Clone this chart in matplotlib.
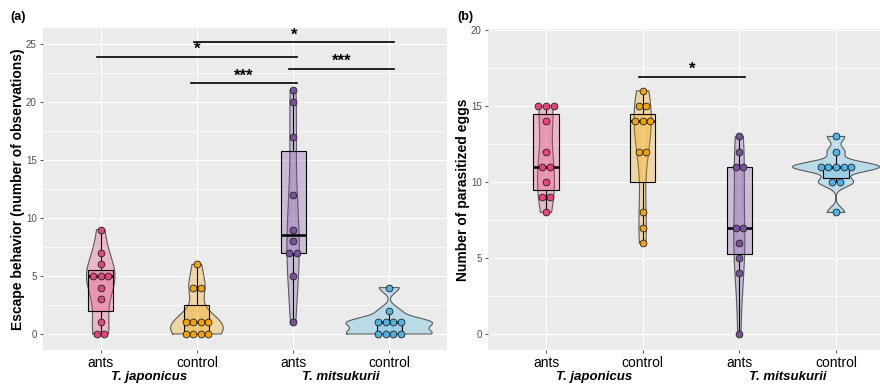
import numpy as np
import matplotlib
matplotlib.use("Agg")
import matplotlib.pyplot as plt

plt.rcParams['font.family'] = ['Liberation Sans', 'DejaVu Sans']

# ---------------- data ----------------
categories = ["ants", "control", "ants", "control"]
species = ["T. japonicus", "T. mitsukurii"]
colors = ["#E6457A", "#F5A300", "#7A4FA0", "#4FB3E3"]

escape_jap_ants = [9, 7, 6, 5, 5, 5, 4, 3, 1, 0, 0]
escape_jap_control = [6, 4, 4, 1, 1, 1, 1, 0, 0, 0, 0]
escape_mit_ants = [21, 20, 17, 12, 9, 8, 7, 7, 5, 1]
escape_mit_control = [4, 2, 1, 1, 1, 1, 0, 0, 0, 0]

eggs_jap_ants = [15, 15, 15, 14, 12, 11, 11, 10, 9, 9, 8]
eggs_jap_control = [16, 15, 15, 14, 14, 14, 12, 12, 8, 7, 6]
eggs_mit_ants = [13, 12, 11, 11, 7, 7, 6, 5, 4, 0]
eggs_mit_control = [13, 12, 11, 11, 11, 11, 11, 10, 10, 8]

# significance brackets: (x_start, x_end, y, label)
sig_a = [(1.97, 4.05, 25.15, "*"), (0.96, 3.04, 23.9, "*"),
         (2.96, 4.05, 22.85, "***"), (1.94, 3.04, 21.6, "***")]
sig_b = [(1.965, 3.06, 16.9, "*")]


def nrd0(x):
    x = np.asarray(x, float)
    sd = np.std(x, ddof=1)
    q75, q25 = np.percentile(x, [75, 25])
    lo = min(sd, (q75 - q25) / 1.34)
    if lo == 0:
        lo = sd if sd > 0 else 1.0
    return 0.9 * lo * len(x) ** -0.2


def kde(x):
    x = np.asarray(x, float)
    bw = nrd0(x)
    ys = np.linspace(x.min(), x.max(), 512)
    d = np.exp(-0.5 * ((ys[:, None] - x[None, :]) / bw) ** 2).sum(1)
    d /= (len(x) * bw * np.sqrt(2 * np.pi))
    return ys, d


def draw_panel(ax, groups, ylim, yticks, sigs):
    ax.set_facecolor("#EBEBEB")
    for s in ax.spines.values():
        s.set_visible(False)
    ax.set_xlim(0.4, 4.6)
    ax.set_ylim(*ylim)
    ax.set_yticks(yticks)
    minor = [(a + b) / 2 for a, b in zip(yticks[:-1], yticks[1:])]
    ax.set_yticks(minor, minor=True)
    ax.set_xticks([1, 2, 3, 4])
    ax.set_xticklabels(categories, fontsize=10, color="black")
    ax.tick_params(axis="y", which="major", labelsize=7, labelcolor="#4D4D4D",
                   color="#333333", length=2.5, width=0.6, pad=2)
    ax.tick_params(axis="x", which="major", color="#333333", length=2.5, width=0.6, pad=1.5)
    ax.tick_params(which="minor", length=0)
    ax.grid(True, which="major", color="white", lw=1.0)
    ax.grid(True, which="minor", color="white", lw=0.5)
    ax.set_axisbelow(True)

    dens = [kde(g) for g in groups]
    dmax = max(d.max() for _, d in dens)
    for i, (g, (ys, d), c) in enumerate(zip(groups, dens, colors)):
        xc = i + 1
        hw = d / dmax * 0.45
        ax.fill_betweenx(ys, xc - hw, xc + hw, facecolor=c, alpha=0.3,
                         edgecolor="none", zorder=2)
        ax.plot(np.r_[xc - hw, (xc + hw)[::-1], xc - hw[0]],
                np.r_[ys, ys[::-1], ys[0]], color="#3a3a3a", lw=0.8, alpha=0.8, zorder=2.1)
        g = np.asarray(g, float)
        q1, med, q3 = np.percentile(g, [25, 50, 75])
        iqr = q3 - q1
        lo = g[g >= q1 - 1.5 * iqr].min()
        hi = g[g <= q3 + 1.5 * iqr].max()
        bw = 0.13
        ax.add_patch(plt.Rectangle((xc - bw, q1), 2 * bw, q3 - q1, facecolor=c,
                                   alpha=0.3, edgecolor="none", zorder=3))
        ax.add_patch(plt.Rectangle((xc - bw, q1), 2 * bw, q3 - q1, facecolor="none",
                                   edgecolor="black", lw=0.8, zorder=3.1))
        ax.plot([xc, xc], [q3, hi], color="black", lw=0.8, zorder=3.1)
        ax.plot([xc, xc], [lo, q1], color="black", lw=0.8, zorder=3.1)
        ax.plot([xc - bw, xc + bw], [med, med], color="black", lw=1.8, zorder=3.2,
                solid_capstyle="butt")
        # dots stacked centrally
        vals, counts = np.unique(g, return_counts=True)
        for v, k in zip(vals, counts):
            offs = (np.arange(k) - (k - 1) / 2) * 0.078
            ax.scatter(xc + offs, np.full(k, v), s=24, facecolor=c,
                       edgecolor="#222222", linewidth=0.6, zorder=4)

    for x0, x1, y, lab in sigs:
        ax.plot([x0, x1], [y, y], color="black", lw=1.2, zorder=5, clip_on=False)
        ax.text((x0 + x1) / 2, y, lab, ha="center", va="bottom", fontsize=12,
                fontweight="bold", zorder=5)

    for k, sp in enumerate(species):
        ax.text(1.5 + 2 * k, -27 / 322, sp, transform=ax.get_xaxis_transform(),
                ha="center", va="center", fontsize=9.5, fontweight="bold", fontstyle="italic")


fig = plt.figure(figsize=(8.8, 3.84), dpi=100)
ax1 = fig.add_axes([43 / 880, 1 - 350 / 384, 404 / 880, 322 / 384])
ax2 = fig.add_axes([488 / 880, 1 - 350 / 384, 406 / 880, 321 / 384])

draw_panel(ax1, [escape_jap_ants, escape_jap_control, escape_mit_ants, escape_mit_control],
           (-1.38, 26.38), [0, 5, 10, 15, 20, 25], sig_a)
draw_panel(ax2, [eggs_jap_ants, eggs_jap_control, eggs_mit_ants, eggs_mit_control],
           (-1.05, 20.07), [0, 5, 10, 15, 20], sig_b)

ax1.set_ylabel("Escape behavior (number of observations)", fontsize=10,
               fontweight="bold", labelpad=1)
ax2.set_ylabel("Number of parasitized eggs", fontsize=10, fontweight="bold", labelpad=1)

fig.text(10 / 880, 1 - 17 / 384, "(a)", fontsize=9, fontweight="bold", va="center")
fig.text(457 / 880, 1 - 17 / 384, "(b)", fontsize=9, fontweight="bold", va="center")

fig.savefig("out.png", dpi=100)
